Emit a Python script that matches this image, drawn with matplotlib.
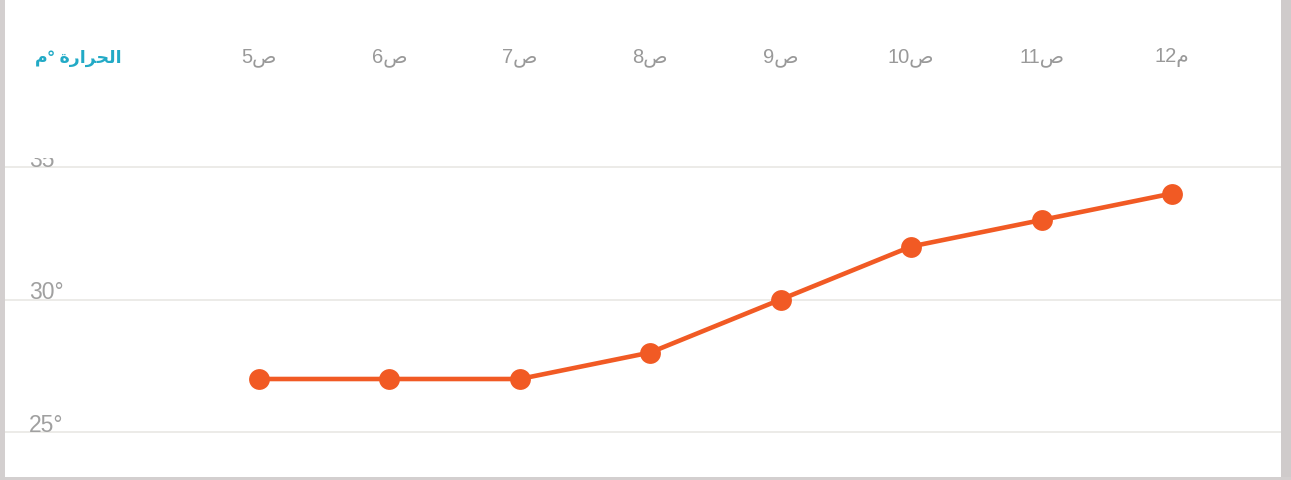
import matplotlib
matplotlib.use("Agg")
import matplotlib.pyplot as plt
from matplotlib.patches import Rectangle
from matplotlib.transforms import Bbox, TransformedBbox

plt.rcParams['font.family'] = ['Liberation Sans', 'DejaVu Sans']

hours = ["5ص", "6ص", "7ص", "8ص", "9ص", "10ص", "11ص", "12م"]
temps = [27, 27, 27, 28, 30, 32, 33, 34]
ytick_vals = [25, 30, 35]
ytick_labels = ["25°", "30°", "35°"]
# "الحرارة °م" in visual order with presentation forms
title_text = "\uFEE1° \uFE93\uFEAD\uFE8D\uFEAE\uFEA4\uFEDF\uFE8D"

W, H = 1291, 481
fig = plt.figure(figsize=(W / 100, H / 100), dpi=100)
fig.patch.set_facecolor("white")

# card borders
fig.patches.append(Rectangle((0, 0), 5 / W, 1, transform=fig.transFigure,
                             facecolor="#d3cfcf", edgecolor="none", zorder=0))
fig.patches.append(Rectangle((1281 / W, 0), 10 / W, 1, transform=fig.transFigure,
                             facecolor="#cfcbcb", edgecolor="none", zorder=0))
fig.patches.append(Rectangle((0, 0), 1, 3 / H, transform=fig.transFigure,
                             facecolor="#d3cfcf", edgecolor="none", zorder=0))

left_px, right_px = 5, 1281
x0_px, dx_px = 259, 130.43
y25_px, ppd = 433, 26.5
top_px, bot_px = 0, 478

ax = fig.add_axes([left_px / W, (H - bot_px) / H, (right_px - left_px) / W, (bot_px - top_px) / H])
ax.set_facecolor("none")
ax.set_xlim((left_px - x0_px) / dx_px, (right_px - x0_px) / dx_px)
ax.set_ylim(25 - (bot_px - y25_px) / ppd, 25 + (y25_px - top_px) / ppd)
for s in ax.spines.values():
    s.set_visible(False)
ax.set_xticks([])
ax.set_yticks([])

for v in ytick_vals:
    ax.axhline(v, color="#ecebe8", lw=1.4, zorder=1)

xs = list(range(len(temps)))
ax.plot(xs, temps, color="#f15a24", lw=3.3, marker="o", markersize=15,
        markeredgewidth=0, zorder=3, solid_capstyle="round")

# top hour labels
for x, lab in zip(xs, hours):
    ax.text(x, 25 + (y25_px - 58) / ppd, lab, ha="center", va="center",
            fontsize=14.5, color="#999999")

# y labels
xlab = (29 - x0_px) / dx_px
for v, lab in zip(ytick_vals, ytick_labels):
    t = ax.text(xlab, v + 0.05, lab, ha="left", va="baseline", fontsize=16.5, color="#a0a0a0")
    if v == 35:
        clip = TransformedBbox(Bbox([[0, (H - 170) / H], [1, (H - 159) / H]]), fig.transFigure)
        t.set_clip_box(clip)
        t.set_clip_on(True)

fig.text(35 / W, 1 - 58 / H, title_text, ha="left", va="center", fontsize=12.5,
         fontweight="bold", color="#22aac6")

fig.savefig("out.png", dpi=100)
